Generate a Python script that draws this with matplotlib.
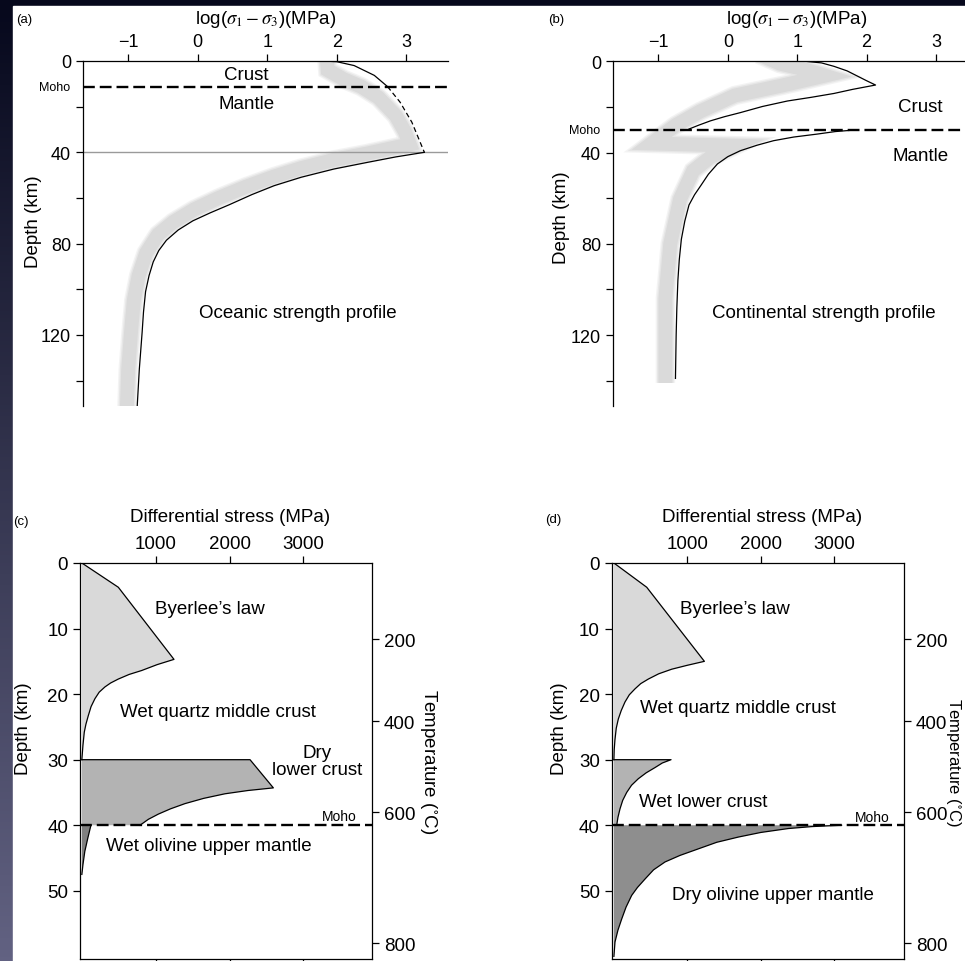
import numpy as np
import matplotlib.pyplot as plt
from matplotlib.patches import Rectangle

plt.rcParams['font.family'] = ['Liberation Sans', 'DejaVu Sans']
plt.rcParams['mathtext.fontset'] = 'stix'

W, H = 965, 962

# (a) oceanic strength profile: log10 stress (MPa) against depth (km)
ocean_crust_log = [1.80, 2.00, 2.25, 2.54, 2.73]
ocean_crust_depth = [0, 0.3, 2.0, 6.3, 11.2]
ocean_dash_log = [2.73, 2.91, 3.08, 3.20, 3.26]
ocean_dash_depth = [11.2, 18.0, 26.8, 35.6, 40.0]
ocean_mantle_log = [3.26, 2.85, 2.44, 1.96, 1.49, 1.10, 0.78, 0.45, 0.18, -0.07,
                    -0.28, -0.45, -0.56, -0.64, -0.70, -0.75, -0.78, -0.80,
                    -0.82, -0.84, -0.87]
ocean_mantle_depth = [40, 42, 44.4, 47.3, 50.9, 54.6, 58.5, 63, 66.5, 70,
                      74, 78.5, 83, 88, 94, 101, 110, 119,
                      127, 135, 151]
ocean_band_log = [1.85, 1.87, 2.10, 2.35, 2.60, 2.85, 2.98, 3.05,
                  2.44, 1.96, 1.49, 1.10, 0.70, 0.30, -0.05, -0.35, -0.57,
                  -0.74, -0.85, -0.92, -0.96, -1.00, -1.02]
ocean_band_depth = [-3, 4, 8, 11.2, 16, 24, 31, 36.5,
                    40.5, 43.3, 46.9, 50.6, 55, 60, 65, 70.5, 76,
                    84, 94, 105, 119, 135, 153]
ocean_moho = 11.2

# (b) continental strength profile
cont_crust_log = [1.12, 1.35, 1.53, 1.72, 1.87, 2.00, 2.13, 1.80, 1.53, 1.20,
                  0.86, 0.50, 0.18, -0.05, -0.25, -0.42, -0.56]
cont_crust_depth = [0, 0.7, 2.2, 4.2, 6.5, 8.5, 10.4, 12.3, 14.1, 15.8,
                    17.4, 19.8, 22.5, 24.3, 26.1, 28.0, 29.7]
cont_mantle_log = [1.88, 1.55, 1.29, 0.95, 0.66, 0.42, 0.18, 0.00, -0.15, -0.28,
                   -0.39, -0.48, -0.56, -0.62, -0.67, -0.70, -0.72, -0.735,
                   -0.745, -0.755]
cont_mantle_depth = [30, 30.8, 31.9, 33.2, 34.8, 36.8, 39.2, 41.8, 45, 49.5,
                     54.5, 58.5, 63, 70, 78, 87, 96, 108,
                     120, 139]
cont_band_log = [0.45, 0.75, 1.10, 1.40, 0.80, 0.10, -0.40, -0.75, -1.10,
                 0.10, -0.25, -0.50, -0.69, -0.83, -0.90, -0.90]
cont_band_depth = [-3, 1, 3.5, 6.3, 10.5, 15, 22, 28, 36,
                   37, 42, 48, 60.5, 80, 104, 141]
cont_moho = 30

# (c) differential stress (MPa) against depth (km), dry lower crust
c_byerlee_stress = [0, 494, 1248, 1020, 810, 640, 494, 390, 313, 235, 177,
                    125, 87, 55, 33, 15, 0]
c_byerlee_depth = [0, 3.7, 14.7, 15.5, 16.4, 17.0, 17.7, 18.3, 18.9, 19.7, 20.7,
                   21.9, 23.3, 24.6, 25.8, 27.8, 30]
c_lower_stress = [0, 2278, 2594, 2250, 1939, 1650, 1397, 1200, 1036, 900, 788]
c_lower_depth = [30, 30, 34.3, 34.7, 35.2, 35.9, 36.7, 37.5, 38.3, 39.1, 40]
c_mantle_stress = [123, 80, 40, 15, 0]
c_mantle_depth = [40, 42, 44, 46, 47.5]

# (d) wet lower crust, dry olivine mantle
d_byerlee_stress = [0, 447, 1232, 1000, 787, 610, 469, 365, 287, 210, 151,
                    100, 60, 32, 14, 4, 0]
d_byerlee_depth = [0, 3.7, 15.0, 15.6, 16.2, 16.9, 17.7, 18.4, 19.2, 20.1, 21.2,
                   22.5, 23.8, 25.2, 27.0, 28.5, 30]
d_lower_stress = [0, 778, 660, 560, 440, 333, 240, 174, 120, 83, 55, 38]
d_lower_depth = [30, 30, 30.5, 31.2, 32.0, 32.9, 33.9, 35.0, 36.2, 37.5, 38.8, 40]
d_mantle_stress = [3100, 2700, 2376, 2000, 1695, 1400, 1150, 900, 696, 540,
                   424, 320, 242, 165, 106, 55, 15, 0]
d_mantle_depth = [40, 40.2, 40.5, 41.1, 41.8, 42.6, 43.6, 44.6, 45.6, 46.8,
                  48.2, 49.5, 50.7, 52.5, 54.3, 56.0, 57.8, 60]

moho_cd = 40
temp_labels = [200, 400, 600, 800]
temp_depth = [11.6, 24.1, 38.0, 58.0]

LINE = dict(color='black', lw=0.9)
MOHO_LS = (0, (5, 2.1))

fig = plt.figure(figsize=(W / 100, H / 100), dpi=100)

# slide background: dark gradient strip on the left and top
bg = fig.add_axes([0, 0, 1, 1], zorder=-10)
t = np.linspace(0, 1, 256)[:, None]
top_c = np.array([6, 8, 28]) / 255
bot_c = np.array([98, 98, 130]) / 255
img = (top_c + (bot_c - top_c) * t)[:, None, :]
bg.imshow(img, extent=[0, 1, 0, 1], aspect='auto')
bg.add_patch(Rectangle((13 / W, 0), 1, 1 - 7 / H, color='white'))
bg.set_xlim(0, 1)
bg.set_ylim(0, 1)
bg.axis('off')


def add_axes(left, top, right, bottom):
    return fig.add_axes([left / W, 1 - bottom / H, (right - left) / W, (bottom - top) / H])


def ftext(x, y, s, **kw):
    fig.text(x / W, 1 - y / H, s, **kw)


def draw_band(ax, xs, ds):
    for lw, a in [(14, 0.3), (12, 0.5), (10, 1.0)]:
        ax.plot(xs, ds, color='#dadada', lw=lw, alpha=a, solid_joinstyle='miter',
                solid_capstyle='butt', zorder=1)


def log_axes(ax, xlim):
    ax.set_xlim(*xlim)
    ax.set_ylim(151.1, 0)
    ax.set_facecolor('none')
    for s in ['right', 'bottom']:
        ax.spines[s].set_visible(False)
    for s in ['top', 'left']:
        ax.spines[s].set_linewidth(0.9)
    ax.xaxis.tick_top()
    ax.set_xticks([-1, 0, 1, 2, 3])
    ax.set_yticks([0, 40, 80, 120])
    ax.set_yticks([20, 60, 100, 140], minor=True)
    ax.tick_params(which='both', direction='out', length=5, width=0.9, labelsize=13)
    ax.tick_params(axis='x', pad=3)


# ---- (a)
ax = add_axes(83, 62, 448, 407)
log_axes(ax, (-1.65, 3.60))
draw_band(ax, ocean_band_log, ocean_band_depth)
ax.axhline(40, color='#9a9a9a', lw=1.0, zorder=2)
ax.axhline(ocean_moho, color='black', lw=1.7, ls=MOHO_LS, zorder=3)
ax.plot(ocean_crust_log, ocean_crust_depth, zorder=4, **LINE)
ax.plot(ocean_dash_log, ocean_dash_depth, ls=(0, (4, 2.5)), zorder=4, **LINE)
ax.plot(ocean_mantle_log, ocean_mantle_depth, zorder=4, **LINE)
ax.text(-0.035, ocean_moho, 'Moho', transform=ax.get_yaxis_transform(),
        ha='right', va='center', fontsize=9)
ax.text(0.70, 6.1, 'Crust', ha='center', va='center', fontsize=13.5)
ax.text(0.70, 18.4, 'Mantle', ha='center', va='center', fontsize=13.5)
ax.text(1.44, 110, 'Oceanic strength profile', ha='center', va='center', fontsize=13.5)
ftext(266, 20, r'log($\sigma_1 - \sigma_3$)(MPa)', ha='center', va='center', fontsize=13.5)
ftext(33, 222, 'Depth (km)', rotation=90, ha='center', va='center', fontsize=13.5)
ftext(16, 20, '(a)', ha='left', va='center', fontsize=9.5)

# ---- (b)
ax = add_axes(612.7, 62.3, 965, 407)
log_axes(ax, (-1.66, 3.42))
draw_band(ax, cont_band_log, cont_band_depth)
ax.axhline(cont_moho, color='black', lw=1.7, ls=MOHO_LS, zorder=3)
ax.plot(cont_crust_log, cont_crust_depth, zorder=4, **LINE)
ax.plot(cont_mantle_log, cont_mantle_depth, zorder=4, **LINE)
ax.text(-0.036, cont_moho, 'Moho', transform=ax.get_yaxis_transform(),
        ha='right', va='center', fontsize=9)
ax.text(2.78, 19.6, 'Crust', ha='center', va='center', fontsize=13.5)
ax.text(2.78, 41.5, 'Mantle', ha='center', va='center', fontsize=13.5)
ax.text(1.38, 110, 'Continental strength profile', ha='center', va='center', fontsize=13.5)
ftext(797, 20, r'log($\sigma_1 - \sigma_3$)(MPa)', ha='center', va='center', fontsize=13.5)
ftext(562, 218, 'Depth (km)', rotation=90, ha='center', va='center', fontsize=13.5)
ftext(548, 20, '(b)', ha='left', va='center', fontsize=9.5)


def stress_axes(left, right, xlim):
    ax = add_axes(left, 564, right, 960)
    ax.set_xlim(*xlim)
    ax.set_ylim(60.4, 0)
    ax.set_facecolor('none')
    for s in ax.spines.values():
        s.set_linewidth(0.9)
    ax.set_xticks([1000, 2000, 3000])
    ax.set_yticks([0, 10, 20, 30, 40, 50])
    ax.tick_params(direction='out', length=5, width=0.9, labelsize=13.5,
                   top=True, labeltop=True, bottom=True, labelbottom=False)
    ax.tick_params(axis='x', pad=3)
    tw = ax.twinx()
    tw.set_ylim(60.4, 0)
    tw.set_yticks(temp_depth, labels=[str(v) for v in temp_labels])
    tw.tick_params(direction='out', length=5, width=0.9, labelsize=13.5)
    for s in tw.spines.values():
        s.set_visible(False)
    return ax


def fill_layer(ax, stress, depth, color, close_depth):
    xs = [0] + list(stress) + [0]
    ds = [depth[0]] + list(depth) + [close_depth]
    ax.fill(xs, ds, color=color, lw=0, zorder=1)
    ax.plot(stress, depth, zorder=3, **LINE)


# ---- (c)
ax = stress_axes(80, 372, (-25, 3930))
fill_layer(ax, c_byerlee_stress, c_byerlee_depth, '#d9d9d9', 30)
fill_layer(ax, c_lower_stress, c_lower_depth, '#b3b3b3', 40)
fill_layer(ax, c_mantle_stress, c_mantle_depth, '#808080', 47.5)
ax.axhline(moho_cd, color='black', lw=1.7, ls=MOHO_LS, zorder=4)
ax.text(1736, 6.9, 'Byerlee\u2019s law', ha='center', va='center', fontsize=13.5)
ax.text(1844, 22.7, 'Wet quartz middle crust', ha='center', va='center', fontsize=13.5)
ax.text(3186, 30.2, 'Dry\nlower crust', ha='center', va='center', fontsize=13.5,
        linespacing=1.0)
ax.text(1713, 43.1, 'Wet olivine upper mantle', ha='center', va='center', fontsize=13.5)
ax.text(3724, 38.6, 'Moho', ha='right', va='center', fontsize=10)
ftext(230, 518, 'Differential stress (MPa)', ha='center', va='center', fontsize=13.5)
ftext(24, 729, 'Depth (km)', rotation=90, ha='center', va='center', fontsize=13.5)
ftext(429, 762, r'Temperature ($^{\circ}$C)', rotation=270, ha='center', va='center',
      fontsize=13.5)
ftext(13, 522, '(c)', ha='left', va='center', fontsize=9.5)

# ---- (d)
ax = stress_axes(611.7, 904, (-30, 3950))
fill_layer(ax, d_byerlee_stress, d_byerlee_depth, '#d9d9d9', 30)
fill_layer(ax, d_lower_stress, d_lower_depth, '#b3b3b3', 40)
fill_layer(ax, d_mantle_stress, d_mantle_depth, '#8e8e8e', 60)
ax.axhline(moho_cd, color='black', lw=1.7, ls=MOHO_LS, zorder=4)
ax.text(1650, 6.9, 'Byerlee\u2019s law', ha='center', va='center', fontsize=13.5)
ax.text(1691, 22.1, 'Wet quartz middle crust', ha='center', va='center', fontsize=13.5)
ax.text(1214, 36.4, 'Wet lower crust', ha='center', va='center', fontsize=13.5)
ax.text(2168, 50.5, 'Dry olivine upper mantle', ha='center', va='center', fontsize=13.5)
ax.text(3752, 38.8, 'Moho', ha='right', va='center', fontsize=10)
ftext(762, 518, 'Differential stress (MPa)', ha='center', va='center', fontsize=13.5)
ftext(559, 729, 'Depth (km)', rotation=90, ha='center', va='center', fontsize=13.5)
ftext(954, 763, r'Temperature ($^{\circ}$C)', rotation=270, ha='center', va='center',
      fontsize=12)
ftext(545, 520, '(d)', ha='left', va='center', fontsize=9.5)

fig.savefig('out.png', dpi=100)
